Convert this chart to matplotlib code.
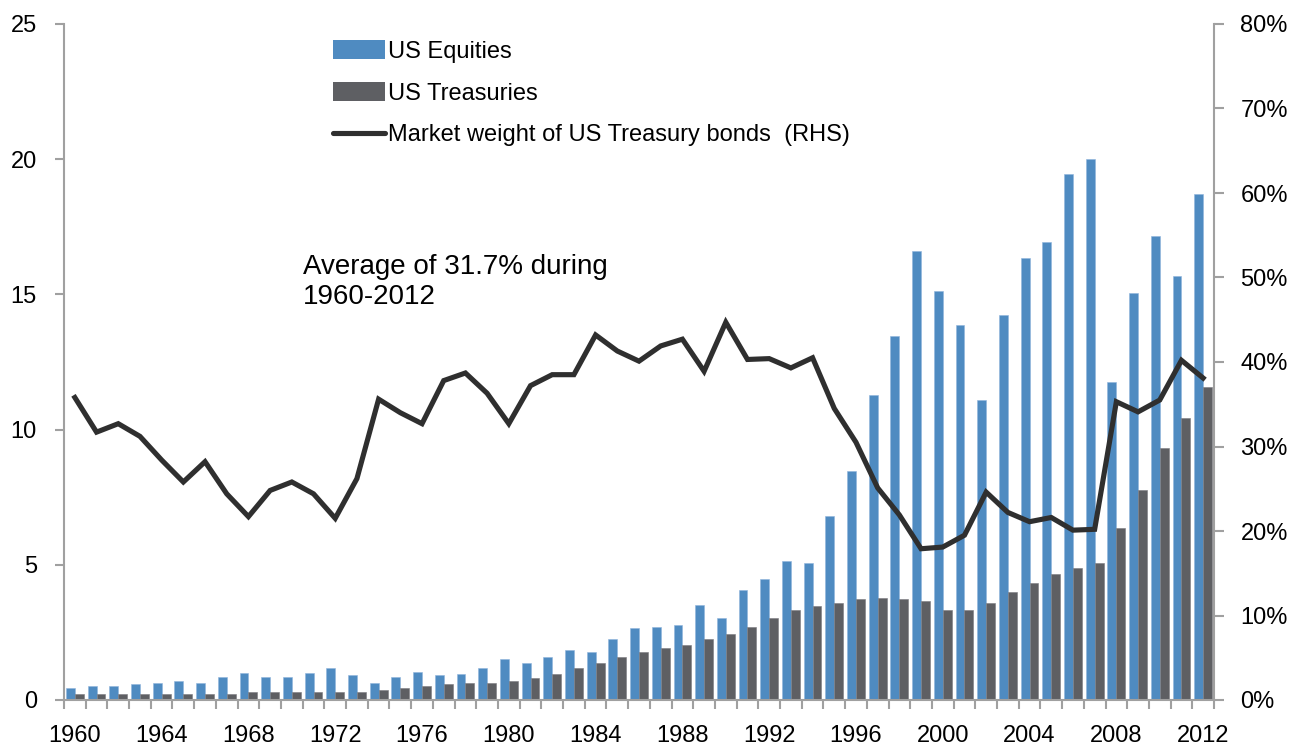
import matplotlib
matplotlib.use("Agg")
import matplotlib.pyplot as plt
from matplotlib.patches import Patch
from matplotlib.lines import Line2D
from matplotlib.ticker import FuncFormatter

years = list(range(1960, 2013))
equities = [0.43, 0.52, 0.52, 0.58, 0.64, 0.71, 0.64, 0.85, 0.99, 0.85,
            0.85, 0.99, 1.18, 0.92, 0.64, 0.85, 1.05, 0.92, 0.98, 1.17,
            1.51, 1.38, 1.58, 1.84, 1.76, 2.24, 2.65, 2.71, 2.78, 3.52,
            3.05, 4.07, 4.48, 5.15, 5.08, 6.82, 8.46, 11.28, 13.45, 16.60,
            15.13, 13.86, 11.09, 14.25, 16.34, 16.94, 19.45, 20.00, 11.76, 15.07,
            17.16, 15.67, 18.72]
treasuries = [0.23, 0.23, 0.23, 0.23, 0.23, 0.23, 0.23, 0.23, 0.30, 0.30,
              0.30, 0.30, 0.30, 0.30, 0.37, 0.43, 0.51, 0.58, 0.63, 0.63,
              0.69, 0.83, 0.97, 1.17, 1.37, 1.58, 1.76, 1.91, 2.05, 2.24,
              2.45, 2.71, 3.05, 3.33, 3.46, 3.60, 3.73, 3.79, 3.72, 3.66,
              3.33, 3.33, 3.59, 4.00, 4.32, 4.67, 4.87, 5.06, 6.35, 7.78,
              9.32, 10.42, 11.56]
weight_pct = [35.8, 31.7, 32.7, 31.2, 28.4, 25.8, 28.2, 24.4, 21.7, 24.8,
              25.8, 24.4, 21.5, 26.2, 35.6, 34.0, 32.7, 37.8, 38.7, 36.3,
              32.7, 37.2, 38.5, 38.5, 43.2, 41.3, 40.1, 41.9, 42.7, 38.9,
              44.7, 40.3, 40.4, 39.3, 40.5, 34.5, 30.5, 25.1, 21.9, 17.9,
              18.1, 19.5, 24.6, 22.2, 21.1, 21.6, 20.1, 20.2, 35.3, 34.1,
              35.5, 40.2, 38.1]
left_ticks = [0, 5, 10, 15, 20, 25]
right_ticks = [0, 10, 20, 30, 40, 50, 60, 70, 80]
label_years = list(range(1960, 2013, 4))

plt.rcParams["font.family"] = ["Liberation Sans", "DejaVu Sans"]
FS = 17

BLUE = "#4F8BC1"
GRAY = "#5E5F63"
LINE = "#2F2F2F"
AXC = "#A0A0A0"

W, H = 1291, 749
fig = plt.figure(figsize=(W / 100, H / 100), dpi=100)
ax = fig.add_axes([64 / W, (H - 700) / H, (1214 - 64) / W, (700 - 24) / H])

idx = list(range(len(years)))
bw = 0.41
ax.bar([i - bw / 2 for i in idx], equities, width=bw, color=BLUE, edgecolor="#8FB4DD", linewidth=0.4, zorder=2)
ax.bar([i + bw / 2 for i in idx], treasuries, width=bw, color=GRAY, edgecolor="#7A7B80", linewidth=0.4, zorder=2)
ax.set_xlim(-0.5, len(years) - 0.5)
ax.set_ylim(0, 25)
ax.set_yticks(left_ticks)
ax.set_yticklabels([str(t) for t in left_ticks])

ax2 = ax.twinx()
ax2.plot(idx, weight_pct, color=LINE, lw=3.7, solid_joinstyle="miter", zorder=3)
ax2.set_ylim(0, 80)
ax2.set_yticks(right_ticks)
ax2.yaxis.set_major_formatter(FuncFormatter(lambda v, p: f"{int(v)}%"))

ax.set_xticks([i - 0.5 for i in range(len(years) + 1)])
ax.set_xticklabels([])
ax.set_xticks([years.index(y) for y in label_years], minor=True)
ax.set_xticklabels([str(y) for y in label_years], minor=True)
ax.tick_params(axis="x", which="major", length=6.5, width=1.5, color=AXC, direction="out")
ax.tick_params(axis="x", which="minor", length=0, pad=18, labelsize=FS)
ax.tick_params(axis="y", length=6.5, width=1.5, color=AXC, pad=13, labelsize=FS)
ax2.tick_params(axis="y", length=7, width=1.5, color=AXC, pad=12, labelsize=FS)

for a in (ax, ax2):
    a.spines["top"].set_visible(False)
    for s in ("left", "right", "bottom"):
        a.spines[s].set_color(AXC)
        a.spines[s].set_linewidth(1.5)
ax2.spines["left"].set_visible(False)
ax2.spines["bottom"].set_visible(False)
ax.spines["right"].set_visible(False)

handles = [Patch(facecolor=BLUE, edgecolor="none"),
           Patch(facecolor=GRAY, edgecolor="none"),
           Line2D([], [], color=LINE, lw=3.7, solid_capstyle="round")]
labels = ["US Equities", "US Treasuries", "Market weight of US Treasury bonds  (RHS)"]
fig.legend(handles, labels, loc="upper left", bbox_to_anchor=(333 / W, 1 - 40 / H),
           frameon=False, fontsize=FS, handlelength=2.2, handleheight=0.85,
           handletextpad=0.13, labelspacing=0.82, borderpad=0, borderaxespad=0)

fig.text(303 / W, 1 - 254 / H, "Average of 31.7% during\n1960-2012", fontsize=20,
         va="top", ha="left", linespacing=1.22)

fig.savefig("out.png", dpi=100)
